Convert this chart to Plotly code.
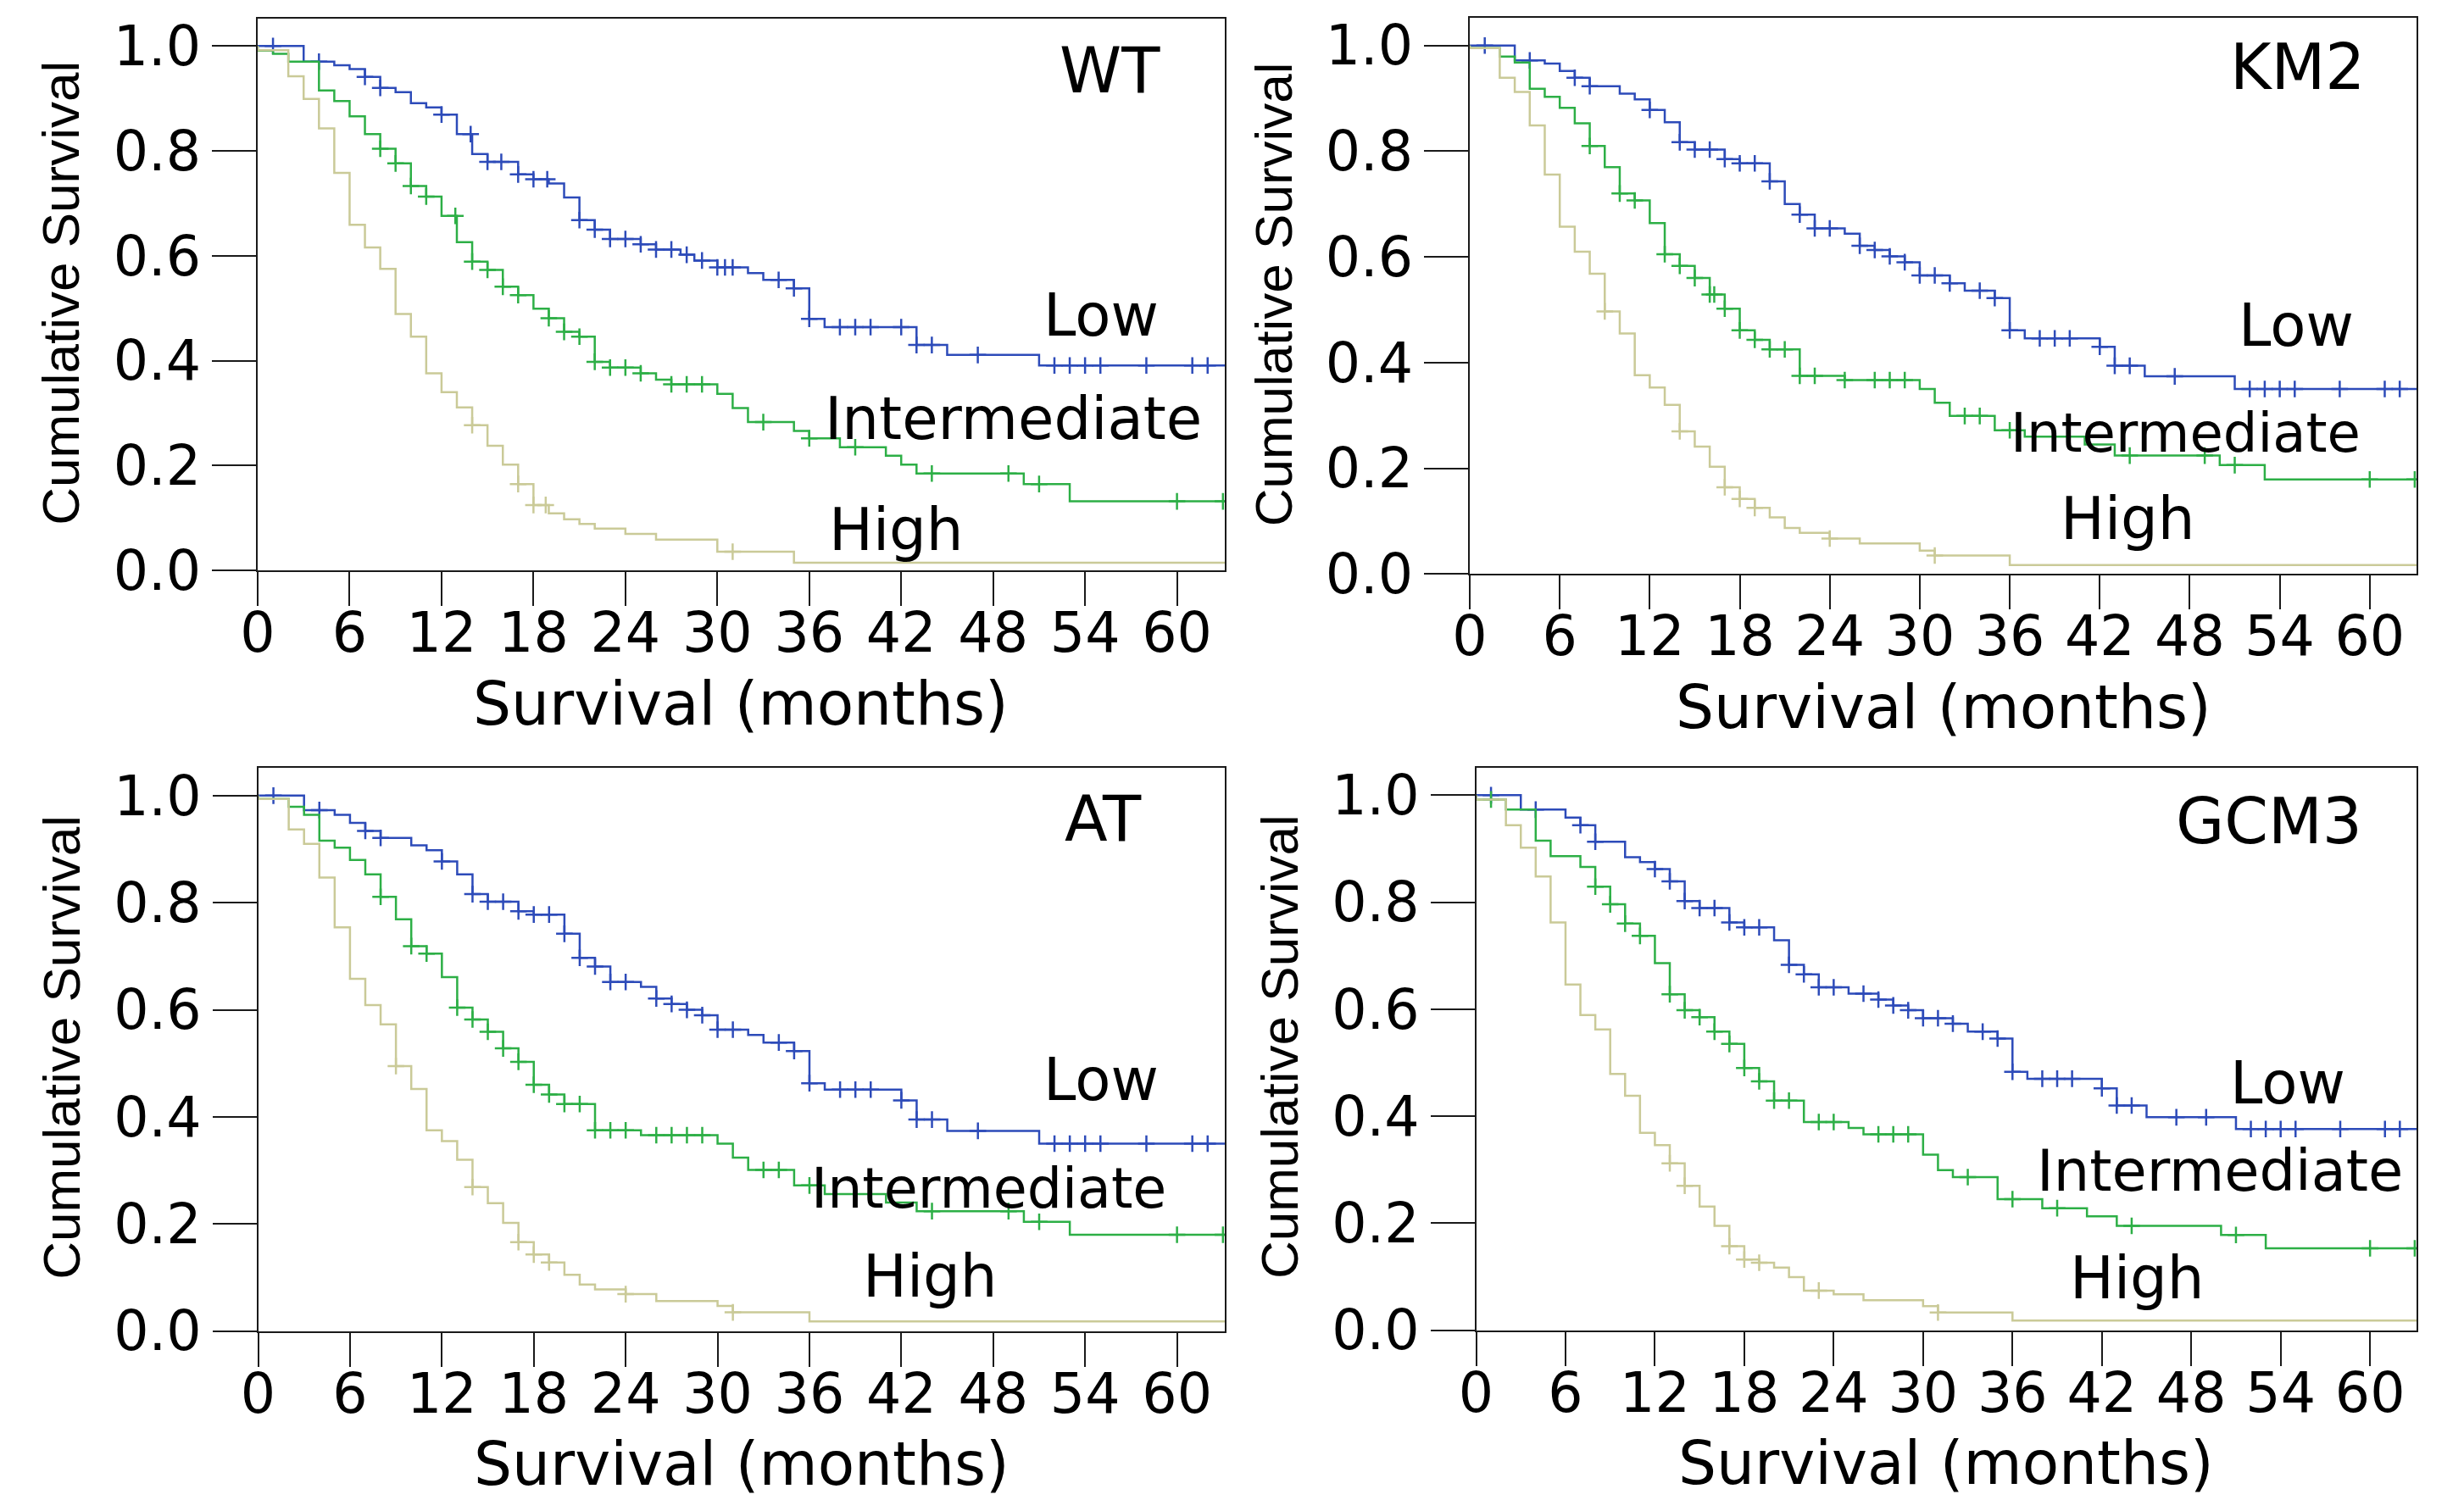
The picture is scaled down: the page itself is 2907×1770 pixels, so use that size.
import plotly.graph_objects as go

# ---------------- data ----------------
month_ticks = [0, 6, 12, 18, 24, 30, 36, 42, 48, 54, 60]
surv_ticks = [0.0, 0.2, 0.4, 0.6, 0.8, 1.0]
group_names = ["Low", "Intermediate", "High"]
panel_names = ["WT", "KM2", "AT", "GCM3"]

# WT
wt_low_t = [3, 5, 6, 7, 8, 9, 10, 11, 12, 13, 14, 15, 17, 18, 19, 20, 21, 22, 23, 25, 26, 27.6, 28.5, 30, 32, 33, 35, 36, 37, 43, 45, 51]
wt_low_s = [0.970, 0.963, 0.956, 0.941, 0.920, 0.912, 0.891, 0.883, 0.869, 0.832, 0.794, 0.779, 0.755, 0.746, 0.738, 0.711, 0.668, 0.650, 0.632, 0.622, 0.612, 0.602, 0.591, 0.578, 0.567, 0.554, 0.538, 0.480, 0.464, 0.430, 0.411, 0.391]
wt_low_c = [1, 4, 7, 8, 12, 13.9, 15, 15.9, 17, 18, 18.9, 21, 22, 23, 24, 25, 26, 27, 28, 29, 30, 30.5, 31, 34, 35, 36, 38, 39, 40, 42, 43, 44, 47, 52, 53, 54, 55, 58, 61, 62]
wt_int_t = [0, 1, 2, 4, 5, 6, 7, 8, 9, 10, 11, 12, 13, 14, 15, 16, 17, 18, 19, 20, 21, 22, 23, 25, 26, 27, 30, 31, 32, 35, 36, 38, 41, 42, 43, 50, 53]
wt_int_s = [0.991, 0.985, 0.970, 0.915, 0.895, 0.866, 0.832, 0.804, 0.776, 0.733, 0.713, 0.676, 0.626, 0.589, 0.573, 0.541, 0.525, 0.499, 0.481, 0.455, 0.446, 0.398, 0.387, 0.376, 0.364, 0.355, 0.337, 0.310, 0.283, 0.266, 0.252, 0.235, 0.219, 0.202, 0.185, 0.165, 0.132]
wt_int_c = [8, 9, 10, 11, 12.9, 14, 15, 16, 17, 19, 20, 21, 22, 23, 24, 25, 27, 28, 29, 33, 36, 39, 44, 49, 51, 60, 63]
wt_high_t = [0, 2, 3, 4, 5, 6, 7, 8, 9, 10, 11, 12, 13, 14, 15, 16, 17, 18, 19, 20, 21, 22, 24, 26, 30, 35]
wt_high_s = [0.992, 0.942, 0.899, 0.843, 0.758, 0.659, 0.616, 0.575, 0.489, 0.446, 0.376, 0.340, 0.311, 0.277, 0.238, 0.202, 0.165, 0.125, 0.109, 0.098, 0.089, 0.080, 0.070, 0.059, 0.036, 0.015]
wt_high_c = [14, 17, 18, 18.8, 31]

# KM2
km2_low_t = [3, 5, 6, 7, 8, 10, 11, 12, 13, 14, 15, 17, 18, 20, 21, 22, 23, 25, 26, 27, 28, 29, 30, 32, 33, 35, 36, 37, 42, 43, 45, 51]
km2_low_s = [0.972, 0.966, 0.952, 0.939, 0.923, 0.909, 0.898, 0.878, 0.855, 0.817, 0.803, 0.785, 0.777, 0.743, 0.700, 0.680, 0.654, 0.644, 0.621, 0.613, 0.601, 0.590, 0.565, 0.550, 0.536, 0.522, 0.461, 0.446, 0.430, 0.394, 0.374, 0.350]
km2_low_c = [1, 4, 7, 8, 12, 14, 15, 16, 17, 18, 19, 20, 22, 23, 24, 26, 27, 28, 29, 30, 31, 32, 34, 35, 36, 38, 39, 40, 42, 43, 44, 47, 52, 53, 54, 55, 58, 61, 62]
km2_int_t = [0, 2, 3, 4, 5, 6, 7, 8, 9, 10, 11, 12, 13, 14, 15, 16, 17, 18, 19, 20, 22, 25, 30, 31, 32, 35, 37, 41, 43, 50, 53]
km2_int_s = [0.995, 0.979, 0.968, 0.918, 0.903, 0.882, 0.853, 0.810, 0.770, 0.720, 0.707, 0.664, 0.605, 0.583, 0.560, 0.529, 0.502, 0.461, 0.443, 0.425, 0.375, 0.367, 0.350, 0.324, 0.299, 0.272, 0.260, 0.245, 0.224, 0.206, 0.179]
km2_int_c = [8, 10, 11, 13, 14, 15, 16, 16.3, 17, 18, 19, 20, 21, 22, 23, 25, 27, 28, 29, 33, 34, 36, 44, 49, 51, 60, 63]
km2_high_t = [0, 2, 3, 4, 5, 6, 7, 8, 9, 10, 11, 12, 13, 14, 15, 16, 17, 18, 19, 20, 21, 22, 24, 26, 30, 31, 36]
km2_high_s = [0.995, 0.939, 0.912, 0.849, 0.756, 0.657, 0.610, 0.568, 0.497, 0.455, 0.376, 0.353, 0.320, 0.270, 0.241, 0.203, 0.164, 0.142, 0.125, 0.107, 0.087, 0.078, 0.067, 0.058, 0.044, 0.035, 0.017]
km2_high_c = [9, 14, 17, 18, 19, 24, 31]

# AT
at_low_t = [3, 5, 6, 7, 8, 10, 11, 12, 13, 14, 15, 17, 18, 20, 21, 22, 23, 25, 26, 27, 28, 29, 30, 32, 33, 35, 36, 37, 42, 43, 45, 51]
at_low_s = [0.973, 0.964, 0.949, 0.934, 0.921, 0.907, 0.898, 0.877, 0.853, 0.816, 0.802, 0.784, 0.778, 0.742, 0.697, 0.681, 0.652, 0.643, 0.621, 0.611, 0.600, 0.590, 0.563, 0.553, 0.539, 0.523, 0.463, 0.451, 0.431, 0.395, 0.374, 0.350]
at_low_c = [1, 4, 7, 8, 12, 14, 15, 16, 17, 18, 19, 20, 21, 22, 23, 24, 26, 27, 28, 29, 30, 31, 34, 35, 36, 38, 39, 40, 42, 43, 44, 47, 52, 53, 54, 55, 58, 61, 62]
at_int_t = [0, 2, 3, 4, 5, 6, 7, 8, 9, 10, 11, 12, 13, 14, 15, 16, 17, 18, 19, 20, 22, 25, 30, 31, 32, 35, 37, 41, 43, 50, 53]
at_int_s = [0.994, 0.979, 0.964, 0.916, 0.903, 0.880, 0.853, 0.811, 0.769, 0.719, 0.705, 0.661, 0.604, 0.582, 0.559, 0.528, 0.503, 0.460, 0.442, 0.424, 0.375, 0.366, 0.350, 0.324, 0.301, 0.272, 0.256, 0.240, 0.224, 0.204, 0.180]
at_int_c = [8, 10, 11, 13, 14, 15, 16, 17, 18, 19, 20, 21, 22, 23, 24, 26, 27, 28, 29, 33, 34, 36, 44, 49, 51, 60, 63]
at_high_t = [0, 2, 3, 4, 5, 6, 7, 8, 9, 10, 11, 12, 13, 14, 15, 16, 17, 18, 19, 20, 21, 22, 24, 26, 30, 31, 36]
at_high_s = [0.994, 0.937, 0.910, 0.847, 0.754, 0.658, 0.609, 0.573, 0.495, 0.452, 0.375, 0.355, 0.320, 0.269, 0.239, 0.202, 0.166, 0.143, 0.128, 0.105, 0.087, 0.078, 0.069, 0.056, 0.047, 0.035, 0.018]
at_high_c = [9, 14, 17, 18, 19, 24, 31]

# GCM3
gcm_low_t = [3, 6, 7, 8, 10, 11, 12, 13, 14, 15, 17, 18, 20, 21, 22, 23, 25, 27, 28, 29, 30, 32, 33, 35, 36, 37, 42, 43, 45, 51]
gcm_low_s = [0.973, 0.958, 0.944, 0.913, 0.884, 0.875, 0.862, 0.839, 0.802, 0.789, 0.762, 0.753, 0.729, 0.683, 0.665, 0.641, 0.629, 0.618, 0.607, 0.598, 0.583, 0.573, 0.558, 0.545, 0.483, 0.470, 0.452, 0.420, 0.398, 0.376]
gcm_low_c = [1, 4, 7, 8, 12, 13, 14, 15, 16, 17, 18, 19, 21, 22, 23, 24, 26, 27, 28, 29, 30, 31, 32, 34, 35, 36, 38, 39, 40, 42, 43, 44, 47, 49, 52, 53, 54, 55, 58, 61, 62]
gcm_int_t = [0, 2, 4, 5, 7, 8, 9, 10, 11, 12, 13, 14, 15, 16, 17, 18, 19, 20, 22, 25, 26, 30, 31, 32, 35, 38, 41, 43, 50, 53]
gcm_int_s = [0.992, 0.973, 0.915, 0.886, 0.866, 0.829, 0.796, 0.760, 0.737, 0.686, 0.628, 0.598, 0.585, 0.558, 0.535, 0.490, 0.465, 0.429, 0.389, 0.378, 0.366, 0.328, 0.299, 0.286, 0.245, 0.228, 0.213, 0.195, 0.178, 0.153]
gcm_int_c = [1, 8, 9, 10, 11, 13, 14, 15, 16, 17, 18, 19, 20, 21, 23, 24, 27, 28, 29, 33, 36, 39, 44, 51, 60, 63]
gcm_high_t = [0, 2, 3, 4, 5, 6, 7, 8, 9, 10, 11, 12, 13, 14, 15, 16, 17, 18, 19, 20, 21, 22, 24, 26, 30, 31, 36]
gcm_high_s = [0.992, 0.944, 0.902, 0.848, 0.762, 0.646, 0.589, 0.562, 0.479, 0.438, 0.369, 0.346, 0.312, 0.270, 0.231, 0.195, 0.157, 0.132, 0.126, 0.117, 0.099, 0.074, 0.067, 0.056, 0.045, 0.033, 0.018]
gcm_high_c = [13, 14, 17, 18, 19, 23, 31]

# label anchor positions in data units (month, survival)
label_pos = {
    "WT":   {"name": (55.6, 0.954), "Low": (55.05, 0.487), "Intermediate": (49.3, 0.290), "High": (41.7, 0.078)},
    "KM2":  {"name": (55.2, 0.959), "Low": (55.1, 0.470), "Intermediate": (47.7, 0.266), "High": (43.9, 0.104)},
    "AT":   {"name": (55.2, 0.957), "Low": (55.05, 0.469), "Intermediate": (47.7, 0.266), "High": (43.9, 0.103)},
    "GCM3": {"name": (53.2, 0.951), "Low": (54.5, 0.462), "Intermediate": (49.9, 0.297), "High": (44.4, 0.097)},
}

# ---------------- styling / layout ----------------
W, H = 2907, 1770
PAGE_OFF = 8          # the html body margin shifts the figure by this many px
X_MAX = 63.12
Y_MAX = 1.052
colors = {"Low": "#2D4BB9", "Intermediate": "#2DAF46", "High": "#CACA98"}
FONT = "DejaVu Sans"
# plot-area pixel boxes on the page: (left, right, top, bottom)
boxes = {
    "WT": (304, 1445, 22, 673.3),
    "KM2": (1734, 2851, 21.3, 677.3),
    "AT": (304.5, 1445, 906, 1570.7),
    "GCM3": (1741.5, 2851, 905.5, 1569.6),
}
inter_size = {"WT": 69, "KM2": 64, "AT": 65, "GCM3": 67}

data = {
    "WT": [(wt_low_t, wt_low_s, wt_low_c), (wt_int_t, wt_int_s, wt_int_c), (wt_high_t, wt_high_s, wt_high_c)],
    "KM2": [(km2_low_t, km2_low_s, km2_low_c), (km2_int_t, km2_int_s, km2_int_c), (km2_high_t, km2_high_s, km2_high_c)],
    "AT": [(at_low_t, at_low_s, at_low_c), (at_int_t, at_int_s, at_int_c), (at_high_t, at_high_s, at_high_c)],
    "GCM3": [(gcm_low_t, gcm_low_s, gcm_low_c), (gcm_int_t, gcm_int_s, gcm_int_c), (gcm_high_t, gcm_high_s, gcm_high_c)],
}


def surv_at(t, s, c):
    v = 1.0
    for ti, si in zip(t, s):
        if ti <= c:
            v = si
    return v


def px_x(p):
    return (p - PAGE_OFF) / W


def px_y(p):
    return 1 - (p - PAGE_OFF) / H


fig = go.Figure()
annotations = []
layout = {}

for i, pname in enumerate(panel_names):
    k = "" if i == 0 else str(i + 1)
    xa, ya = "x" + k, "y" + k
    left, right, top, bottom = boxes[pname]
    xd = [px_x(left), px_x(right)]
    yd = [px_y(bottom), px_y(top)]

    for gname, (t, s, c) in zip(group_names, data[pname]):
        col = colors[gname]
        xs = [0.0] + list(t) + [X_MAX]
        ys = [1.0] + list(s) + [s[-1]]
        fig.add_trace(go.Scatter(x=xs, y=ys, mode="lines", line=dict(color=col, width=2.5, shape="hv"),
                                 xaxis=xa, yaxis=ya, showlegend=False, hoverinfo="skip"))
        fig.add_trace(go.Scatter(x=c, y=[surv_at(t, s, ci) for ci in c], mode="markers",
                                 marker=dict(symbol="cross-thin", size=14, color=col, line=dict(color=col, width=2.5)),
                                 xaxis=xa, yaxis=ya, showlegend=False, hoverinfo="skip"))

    layout["xaxis" + k] = dict(domain=xd, anchor=ya, range=[0, X_MAX], tickvals=month_ticks,
                               showline=True, mirror=True, linecolor="#1a1a1a", linewidth=2,
                               ticks="outside", ticklen=40, tickwidth=2, tickcolor="#1a1a1a",
                               ticklabelstandoff=-24,
                               showgrid=False, zeroline=False, automargin=False,
                               tickfont=dict(family=FONT, size=65, color="black"))
    layout["yaxis" + k] = dict(domain=yd, anchor=xa, range=[0, Y_MAX], tickvals=surv_ticks,
                               tickformat=".1f", showline=True, mirror=True, linecolor="#1a1a1a", linewidth=2,
                               ticks="outside", ticklen=52, tickwidth=2, tickcolor="#1a1a1a",
                               showgrid=False, zeroline=False, automargin=False,
                               tickfont=dict(family=FONT, size=65, color="black"))

    pos = label_pos[pname]
    annotations.append(dict(text=pname, x=pos["name"][0], y=pos["name"][1], xref=xa, yref=ya,
                            showarrow=False, xanchor="center", yanchor="middle",
                            font=dict(family=FONT, size=74, color="black")))
    for gname in group_names:
        size = inter_size[pname] if gname == "Intermediate" else 69
        annotations.append(dict(text=gname, x=pos[gname][0], y=pos[gname][1], xref=xa, yref=ya,
                                showarrow=False, xanchor="center", yanchor="middle",
                                font=dict(family=FONT, size=size, color="black")))

    # axis titles
    xc = (left + right) / 2
    annotations.append(dict(text="Survival (months)", x=px_x(xc), y=px_y(bottom + 157),
                            xref="paper", yref="paper", showarrow=False, xanchor="center", yanchor="middle",
                            font=dict(family=FONT, size=71, color="black")))
    annotations.append(dict(text="Cumulative Survival", x=px_x(left - 232), y=px_y((top + bottom) / 2 - 2),
                            xref="paper", yref="paper", showarrow=False, xanchor="center", yanchor="middle",
                            textangle=-90,
                            font=dict(family="Liberation Sans", size=62, color="black")))

fig.update_layout(width=W, height=H, margin=dict(l=0, r=0, t=0, b=0, pad=0, autoexpand=False),
                  paper_bgcolor="white", plot_bgcolor="white", showlegend=False,
                  annotations=annotations, **layout)

fig.write_html("out.html")
